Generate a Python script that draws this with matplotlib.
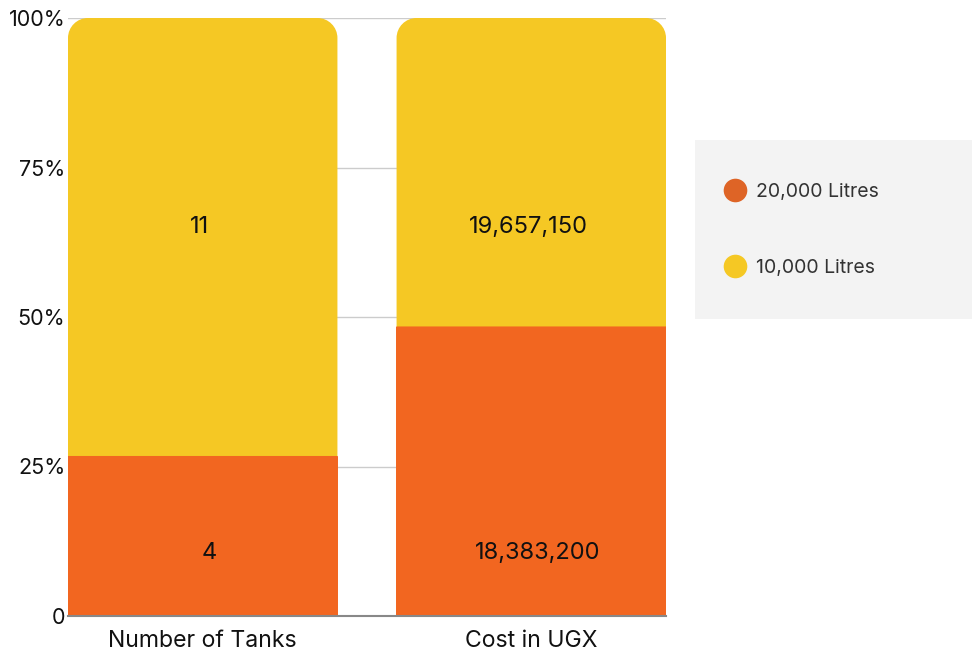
import matplotlib.pyplot as plt
from matplotlib.path import Path
from matplotlib.patches import PathPatch, Rectangle
from matplotlib.lines import Line2D

plt.rcParams['font.family'] = ['Inter', 'DejaVu Sans']

categories = ['Number of Tanks', 'Cost in UGX']
series_names = ['20,000 Litres', '10,000 Litres']
large_tanks = [4, 18383200]
small_tanks = [11, 19657150]
y_ticks = [0, 25, 50, 75, 100]
y_tick_labels = ['0', '25%', '50%', '75%', '100%']

orange = '#F26620'
yellow = '#F5C824'
legend_orange = '#DE6426'

fig = plt.figure(figsize=(9.72, 6.57), dpi=100)
ax = fig.add_axes([68 / 972, 41 / 657, 598 / 972, 598 / 657])

bar_w = 0.82
ax.set_xlim(-bar_w / 2, len(categories) - 1 + bar_w / 2)
ax.set_ylim(0, 100)


def rounded_top_bar(ax, x, bottom, height, width, color, r_px=20):
    # corner radius given in pixels, converted per axis
    t = ax.transData
    sx = t.transform((1, 0))[0] - t.transform((0, 0))[0]
    sy = t.transform((0, 1))[1] - t.transform((0, 0))[1]
    rx, ry = r_px / sx, r_px / sy
    k = 0.5523
    x0, x1 = x - width / 2, x + width / 2
    y0, y1 = bottom, bottom + height
    verts = [(x0, y0), (x0, y1 - ry),
             (x0, y1 - ry + k * ry), (x0 + rx - k * rx, y1), (x0 + rx, y1),
             (x1 - rx, y1),
             (x1 - rx + k * rx, y1), (x1, y1 - ry + k * ry), (x1, y1 - ry),
             (x1, y0), (x0, y0)]
    codes = [Path.MOVETO, Path.LINETO,
             Path.CURVE4, Path.CURVE4, Path.CURVE4,
             Path.LINETO,
             Path.CURVE4, Path.CURVE4, Path.CURVE4,
             Path.LINETO, Path.CLOSEPOLY]
    ax.add_patch(PathPatch(Path(verts, codes), facecolor=color,
                           edgecolor='none', zorder=2))


for i, cat in enumerate(categories):
    total = large_tanks[i] + small_tanks[i]
    low = large_tanks[i] / total * 100
    high = small_tanks[i] / total * 100
    rounded_top_bar(ax, i, low, high, bar_w, yellow)
    # unsnapped edge in the same colour hides the seam between segments
    bars = ax.bar(i, low, width=bar_w, color=orange, edgecolor=orange,
                  linewidth=0.8, zorder=2.5)
    for b in bars:
        b.set_snap(False)
    ax.text(i - 0.01, 65, f'{small_tanks[i]:,}', ha='center', va='center',
            fontsize=17, color='#111111', zorder=3)
    ax.text(i + 0.02, 10.5, f'{large_tanks[i]:,}', ha='center', va='center',
            fontsize=17, color='#111111', zorder=3)

ax.set_yticks(y_ticks)
ax.set_yticklabels(y_tick_labels)
ax.set_xticks(range(len(categories)))
ax.set_xticklabels(categories)
ax.tick_params(axis='y', length=0, pad=2, labelsize=15.5, labelcolor='#111111')
ax.tick_params(axis='x', length=0, pad=10, labelsize=16.6, labelcolor='#111111')
ax.grid(axis='y', color='#cccccc', linewidth=1)
ax.set_axisbelow(True)
for side in ['top', 'right', 'left']:
    ax.spines[side].set_visible(False)
ax.spines['bottom'].set_color('#888888')
ax.spines['bottom'].set_linewidth(1.5)
ax.spines['bottom'].set_zorder(3)

# legend panel
fig.patches.append(Rectangle((695 / 972, 1 - 319 / 657), 277 / 972, 179 / 657,
                             transform=fig.transFigure, facecolor='#f3f3f3',
                             edgecolor='none', zorder=0))
handles = [Line2D([], [], linestyle='', marker='o', markersize=17,
                  markerfacecolor=c, markeredgecolor='none')
           for c in [legend_orange, yellow]]
fig.legend(handles, series_names, loc='center left',
           bbox_to_anchor=(706 / 972, 1 - 230 / 657), frameon=False,
           fontsize=14, labelcolor='#333333', labelspacing=3.0,
           handletextpad=0.45, handlelength=1.2)

fig.savefig('out.png', dpi=100)
